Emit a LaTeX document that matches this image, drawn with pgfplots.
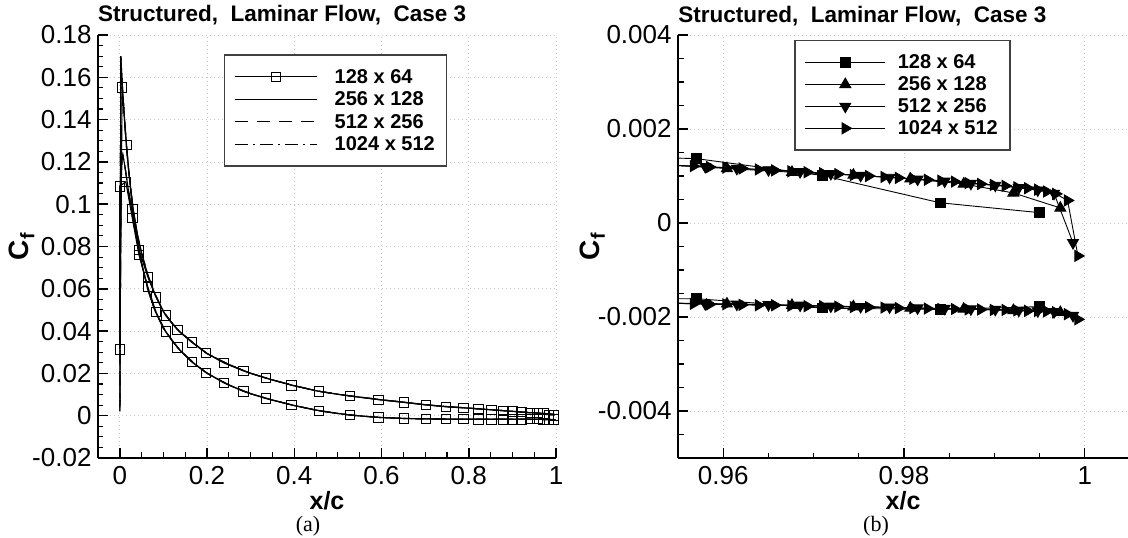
\documentclass[border=0pt]{standalone}
\usepackage{fontspec}
\setmainfont{Liberation Sans}
\newfontfamily\timesfont{Liberation Serif}
\usepackage{pgfplots}
\usepackage{pgfplotstable}
\pgfplotsset{compat=1.18}

% 128 x 64 : lower surface (TE -> LE), then upper surface (LE -> TE)
\pgfplotstableread{
x y
0.995 -0.00178
0.984 -0.00184
0.971 -0.00181
0.957 -0.00161
0.940 -0.00163
0.921 -0.0017
0.901 -0.0017
0.878 -0.0017
0.852 -0.0017
0.822 -0.0017
0.788 -0.0016
0.748 -0.0016
0.702 -0.0015
0.651 -0.0013
0.593 -0.0008
0.527 0.0003
0.457 0.0024
0.393 0.0051
0.335 0.0081
0.283 0.0115
0.238 0.0156
0.198 0.0203
0.165 0.0254
0.132 0.0322
0.105 0.0398
0.083 0.0490
0.064 0.0610
0.044 0.0760
0.0285 0.0936
0.0138 0.1106
0 0.1085
0 0.0313
0.0054 0.1553
0.0154 0.1280
0.0285 0.0977
0.044 0.0784
0.064 0.0657
0.083 0.0560
0.105 0.0474
0.132 0.0406
0.165 0.0347
0.198 0.0296
0.238 0.0250
0.283 0.0212
0.335 0.0178
0.393 0.0144
0.457 0.0115
0.527 0.0093
0.593 0.0076
0.651 0.0063
0.702 0.0051
0.748 0.0042
0.788 0.0037
0.822 0.0032
0.852 0.0028
0.878 0.0024
0.901 0.0020
0.921 0.0017
0.940 0.00146
0.957 0.00137
0.971 0.00101
0.984 0.00043
0.995 0.00022
}\tabA

% 256 x 128
\pgfplotstableread{
x y
0.9973 -0.00190
0.9921 -0.00186
0.9866 -0.00183
0.9807 -0.00181
0.9744 -0.00178
0.9676 -0.00175
0.9604 -0.00172
0.9533 -0.00170
0.9460 -0.00170
0.9 -0.0017
0.85 -0.0017
0.8 -0.0017
0.75 -0.0016
0.7 -0.0015
0.65 -0.0013
0.6 -0.0009
0.55 -0.0001
0.5 0.0010
0.45 0.0026
0.4 0.0048
0.35 0.0074
0.3 0.0104
0.25 0.0145
0.2 0.0201
0.17 0.0248
0.14 0.0305
0.12 0.0355
0.1 0.0413
0.08 0.0500
0.065 0.0592
0.05 0.0720
0.04 0.0828
0.03 0.0940
0.02 0.1060
0.012 0.1175
0.007 0.1233
0.0045 0.1205
0.003 0.1080
0.0018 0.0800
0.0008 0.0300
0.0002 0.0020
0.001 0.0700
0.0023 0.1700
0.005 0.1590
0.01 0.1420
0.015 0.1280
0.02 0.1165
0.03 0.0985
0.04 0.0860
0.05 0.0768
0.065 0.0660
0.08 0.0578
0.1 0.0492
0.12 0.0437
0.14 0.0392
0.17 0.0342
0.2 0.0294
0.25 0.0242
0.3 0.0200
0.35 0.0169
0.4 0.0142
0.45 0.0118
0.5 0.0101
0.55 0.0088
0.6 0.0075
0.65 0.0064
0.7 0.0052
0.75 0.0043
0.8 0.0036
0.85 0.0028
0.9 0.0021
0.9460 0.00130
0.9533 0.00124
0.9604 0.00116
0.9676 0.00108
0.9744 0.00102
0.9807 0.00094
0.9866 0.00083
0.9921 0.00064
0.9973 0.00032
}\tabB

% 512 x 256
\pgfplotstableread{
x y
0.9987 -0.00197
0.9966 -0.00189
0.9948 -0.00187
0.9927 -0.00186
0.9901 -0.00184
0.9874 -0.00183
0.9845 -0.00182
0.9815 -0.00181
0.9784 -0.00179
0.9752 -0.00178
0.9719 -0.00177
0.9685 -0.00175
0.9650 -0.00174
0.9615 -0.00173
0.9580 -0.00172
0.9545 -0.00171
0.9510 -0.00170
0.9475 -0.00170
0.9440 -0.00170
0.9 -0.0017
0.85 -0.0017
0.8 -0.0017
0.75 -0.0016
0.7 -0.0015
0.65 -0.0013
0.6 -0.0009
0.55 -0.0001
0.5 0.0010
0.45 0.0026
0.4 0.0048
0.35 0.0074
0.3 0.0104
0.25 0.0145
0.2 0.0201
0.17 0.0248
0.14 0.0305
0.12 0.0355
0.1 0.0413
0.08 0.0500
0.065 0.0592
0.05 0.0720
0.04 0.0828
0.03 0.0940
0.02 0.1060
0.012 0.1175
0.007 0.1233
0.0045 0.1205
0.003 0.1080
0.0018 0.0800
0.0008 0.0300
0.0002 0.0020
0.001 0.0700
0.0023 0.1700
0.005 0.1590
0.01 0.1420
0.015 0.1280
0.02 0.1165
0.03 0.0985
0.04 0.0860
0.05 0.0768
0.065 0.0660
0.08 0.0578
0.1 0.0492
0.12 0.0437
0.14 0.0392
0.17 0.0342
0.2 0.0294
0.25 0.0242
0.3 0.0200
0.35 0.0169
0.4 0.0142
0.45 0.0118
0.5 0.0101
0.55 0.0088
0.6 0.0075
0.65 0.0064
0.7 0.0052
0.75 0.0043
0.8 0.0036
0.85 0.0028
0.9 0.0021
0.9440 0.00131
0.9475 0.00129
0.9510 0.00126
0.9545 0.00123
0.9580 0.00120
0.9615 0.00116
0.9650 0.00113
0.9685 0.00109
0.9719 0.00105
0.9752 0.00101
0.9784 0.00097
0.9815 0.00093
0.9845 0.00089
0.9874 0.00084
0.9901 0.00080
0.9927 0.00075
0.9948 0.00070
0.9966 0.00063
0.9987 -0.00042
}\tabC

% 1024 x 512
\pgfplotstableread{
x y
0.99925 -0.00205
0.9981 -0.00194
0.9968 -0.00190
0.9958 -0.00188
0.9948 -0.00187
0.9937 -0.00187
0.9925 -0.00186
0.9912 -0.00185
0.9899 -0.00185
0.9885 -0.00184
0.9871 -0.00184
0.9856 -0.00183
0.9841 -0.00183
0.9826 -0.00182
0.9810 -0.00181
0.9794 -0.00181
0.9778 -0.00180
0.9761 -0.00179
0.9744 -0.00179
0.9727 -0.00178
0.9710 -0.00177
0.9693 -0.00177
0.9675 -0.00176
0.9657 -0.00175
0.9639 -0.00175
0.9621 -0.00174
0.9603 -0.00173
0.9585 -0.00173
0.9567 -0.00172
0.9549 -0.00171
0.9531 -0.00171
0.9513 -0.00170
0.9495 -0.00170
0.9477 -0.00170
0.9 -0.0017
0.85 -0.0017
0.8 -0.0017
0.75 -0.0016
0.7 -0.0015
0.65 -0.0013
0.6 -0.0009
0.55 -0.0001
0.5 0.0010
0.45 0.0026
0.4 0.0048
0.35 0.0074
0.3 0.0104
0.25 0.0145
0.2 0.0201
0.17 0.0248
0.14 0.0305
0.12 0.0355
0.1 0.0413
0.08 0.0500
0.065 0.0592
0.05 0.0720
0.04 0.0828
0.03 0.0940
0.02 0.1060
0.012 0.1175
0.007 0.1233
0.0045 0.1205
0.003 0.1080
0.0018 0.0800
0.0008 0.0300
0.0002 0.0020
0.001 0.0700
0.0023 0.1700
0.005 0.1590
0.01 0.1420
0.015 0.1280
0.02 0.1165
0.03 0.0985
0.04 0.0860
0.05 0.0768
0.065 0.0660
0.08 0.0578
0.1 0.0492
0.12 0.0437
0.14 0.0392
0.17 0.0342
0.2 0.0294
0.25 0.0242
0.3 0.0200
0.35 0.0169
0.4 0.0142
0.45 0.0118
0.5 0.0101
0.55 0.0088
0.6 0.0075
0.65 0.0064
0.7 0.0052
0.75 0.0043
0.8 0.0036
0.85 0.0028
0.9 0.0021
0.9477 0.00128
0.9495 0.00126
0.9513 0.00125
0.9531 0.00124
0.9549 0.00122
0.9567 0.00121
0.9585 0.00119
0.9603 0.00118
0.9621 0.00116
0.9639 0.00114
0.9657 0.00112
0.9675 0.00110
0.9693 0.00108
0.9710 0.00106
0.9727 0.00104
0.9744 0.00102
0.9761 0.00100
0.9778 0.00098
0.9794 0.00096
0.9810 0.00094
0.9826 0.00092
0.9841 0.00090
0.9856 0.00088
0.9871 0.00085
0.9885 0.00083
0.9899 0.00081
0.9912 0.00079
0.9925 0.00076
0.9937 0.00074
0.9948 0.00071
0.9958 0.00067
0.9968 0.00062
0.9981 0.00048
0.99925 -0.00070
}\tabD

\pgfplotsset{
  tecstyle/.style={
    scale only axis,
    axis x line*=bottom, axis y line*=left,
    axis line style={line width=2pt, -},
    tick align=inside,
    major tick length=10pt, minor tick length=5.5pt,
    major tick style={line width=1.5pt, black},
    minor tick style={line width=1.1pt, black},
    grid=major,
    major grid style={black!22, line width=0.7pt, dash pattern=on 1pt off 3pt},
    tick label style={font=\fontsize{26}{26}\selectfont},
    xticklabel style={yshift=-5pt},
    yticklabel style={xshift=-3pt},
    /pgf/number format/assume math mode=true,
    /pgf/number format/fixed,
    scaled x ticks=false, scaled y ticks=false,
    xlabel style={font=\bfseries\fontsize{25}{25}\selectfont, yshift=0pt},
    ylabel style={font=\bfseries\fontsize{28}{28}\selectfont},
    title style={at={(0,1)}, anchor=base west, yshift=7pt, inner sep=0pt,
      font=\bfseries\fontsize{22.5}{22.5}\selectfont},
    legend cell align=left,
    legend style={draw=black!75, line width=1.3pt, fill=white,
      font=\bfseries\fontsize{20}{20}\selectfont,
      inner xsep=10pt, inner ysep=12pt},
  }
}

\begin{document}
\begin{tikzpicture}[x=1pt,y=1pt]
\path[use as bounding box] (0,0) rectangle (1128,538);

\begin{axis}[tecstyle,
  at={(98pt,80pt)}, anchor=south west,
  width=458pt, height=423pt,
  xmin=-0.05, xmax=1, ymin=-0.02, ymax=0.18,
  xtick={0,0.2,0.4,0.6,0.8,1},
  ytick={-0.02,0,0.02,0.04,0.06,0.08,0.1,0.12,0.14,0.16,0.18},
  minor x tick num=3, minor y tick num=3,
  /pgf/number format/precision=2,
  xlabel={x/c}, ylabel={C\textsubscript{f}},
  ylabel shift=-9pt,
  title={Structured,\ \ Laminar Flow,\ \ Case 3},
  legend style={at={(0.275,0.954)}, anchor=north west, row sep=3pt, column sep=15pt},
  legend image code/.code={\draw[mark repeat=2,mark phase=2,#1] plot coordinates {(0pt,0pt) (41pt,0pt) (82pt,0pt)};},
]
\addplot[black, line width=1.15pt, mark=square, mark size=4.7pt, mark options={solid, line width=0.8pt, fill=none}] table {\tabA};
\addplot[black, line width=1.15pt] table {\tabB};
\addplot[black, line width=1.15pt, dash pattern=on 13pt off 9pt] table {\tabC};
\addplot[black, line width=1.15pt, dash pattern=on 13pt off 5pt on 2pt off 5pt] table {\tabD};
\legend{128 x 64, 256 x 128, 512 x 256, 1024 x 512}
\end{axis}

\begin{axis}[tecstyle,
  at={(678pt,80pt)}, anchor=south west,
  width=450pt, height=423pt,
  xmin=0.955, xmax=1.0048, ymin=-0.005, ymax=0.004,
  xtick={0.96,0.98,1},
  minor xtick={0.955,0.965,0.97,0.975,0.985,0.99,0.995},
  ytick={-0.004,-0.002,0,0.002,0.004},
  minor ytick={-0.005,-0.0045,-0.0035,-0.003,-0.0025,-0.0015,-0.001,-0.0005,0.0005,0.001,0.0015,0.0025,0.003,0.0035},
  /pgf/number format/precision=3,
  xlabel={x/c}, ylabel={C\textsubscript{f}},
  ylabel shift=-14pt,
  title={Structured,\ \ Laminar Flow,\ \ Case 3},
  legend style={at={(0.258,0.988)}, anchor=north west, row sep=2.5pt, column sep=10pt},
  legend image code/.code={\draw[mark repeat=2,mark phase=2,#1] plot coordinates {(0pt,0pt) (40pt,0pt) (80pt,0pt)};},
]
\addplot[black, line width=0.9pt, mark=square*, mark size=4.8pt] table {\tabA};
\addplot[black, line width=0.9pt, mark=triangle*, mark size=6.3pt] table {\tabB};
\addplot[black, line width=0.9pt, mark=triangle*, mark size=6.3pt, mark options={rotate=180}] table {\tabC};
\addplot[black, line width=0.9pt, mark=triangle*, mark size=6.3pt, mark options={rotate=-90}] table {\tabD};
\legend{128 x 64, 256 x 128, 512 x 256, 1024 x 512}
\end{axis}

\node[font=\timesfont\fontsize{22}{22}\selectfont] at (308,12) {(a)};
\node[font=\timesfont\fontsize{22}{22}\selectfont] at (876,12) {(b)};
\end{tikzpicture}
\end{document}
